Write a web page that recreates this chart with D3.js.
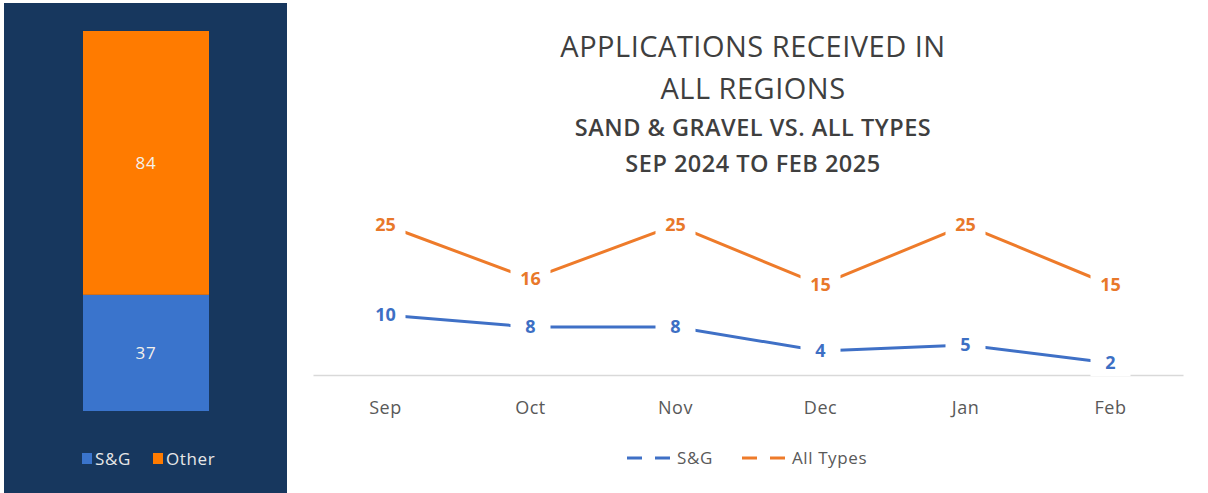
<!DOCTYPE html>
<html>
<head>
<meta charset="utf-8">
<script src="https://cdn.jsdelivr.net/npm/d3@7"></script>
<style>
  body { margin: 0; background: #fff; }
  svg { display: block; font-family: "Open Sans", "Noto Sans", sans-serif; }
</style>
</head>
<body>
<div id="chart"></div>
<script>
// stacked total bar (left panel)
var barKeys = ["S&G", "Other"];
var barValues = [37, 84];

// line chart
var months = ["Sep", "Oct", "Nov", "Dec", "Jan", "Feb"];
var sgValues = [10, 8, 8, 4, 5, 2];
var allValues = [25, 16, 25, 15, 25, 15];

var W = 1208, H = 493;
var orange = "#ff7b00", blue = "#3a74cc";
var lineOrange = "#ee7b2a", lineBlue = "#3f70c6";

var svg = d3.select("#chart").append("svg")
    .attr("width", W)
    .attr("height", H);

svg.append("rect").attr("x", 0).attr("y", 0).attr("width", W).attr("height", H).attr("fill", "#fff");

//Left panel
svg.append("rect")
    .attr("x", 4).attr("y", 3).attr("width", 283).attr("height", H - 3)
    .attr("fill", "#17375e");

var yBar = d3.scaleLinear()
    .domain([0, d3.sum(barValues)])
    .range([411, 31]);

var stackData = [];
var acc = 0;
barValues.forEach(function(v, i) {
    stackData.push({ key: barKeys[i], y0: acc, y1: acc + v, value: v });
    acc += v;
});

var barColor = d3.scaleOrdinal().domain(barKeys).range([blue, orange]);

svg.selectAll(".seg")
    .data(stackData)
    .enter().append("rect")
    .attr("class", "seg")
    .attr("x", 83)
    .attr("width", 126)
    .attr("y", function(d) { return yBar(d.y1); })
    .attr("height", function(d) { return yBar(d.y0) - yBar(d.y1); })
    .attr("fill", function(d) { return barColor(d.key); });

svg.selectAll(".segLabel")
    .data(stackData)
    .enter().append("text")
    .attr("class", "segLabel")
    .attr("x", 146)
    .attr("y", function(d) { return (yBar(d.y0) + yBar(d.y1)) / 2; })
    .attr("dy", "0.35em")
    .attr("text-anchor", "middle")
    .attr("fill", "#f4f0ea")
    .style("font-size", "17px")
    .style("letter-spacing", "0.8px")
    .text(function(d) { return d.value; });

// left legend
var leg1 = svg.append("g").attr("transform", "translate(82,459)");
var legPos = [0, 71];
barKeys.forEach(function(k, i) {
    leg1.append("rect").attr("x", legPos[i]).attr("y", -6).attr("width", 10).attr("height", 11)
        .attr("fill", barColor(k));
    leg1.append("text").attr("x", legPos[i] + 13).attr("y", 0).attr("dy", "0.35em")
        .attr("fill", "#e8e8e8").style("font-size", "17px")
        .style("letter-spacing", "0.6px").text(k);
});

//Right: line chart
var x = d3.scaleBand().domain(months).range([313, 1183]);
var y = d3.scaleLinear().domain([0, 30]).range([375, 195]);
function cx(d, i) { return x(months[i]) + x.bandwidth() / 2; }

// title
var titles = [
    { t: "APPLICATIONS RECEIVED IN", y: 57, s: 29, ls: 0.5, w: 400 },
    { t: "ALL REGIONS", y: 99, s: 29, ls: 0.5, w: 400 },
    { t: "SAND & GRAVEL VS. ALL TYPES", y: 136, s: 23.5, ls: 0.5, w: 600 },
    { t: "SEP 2024 TO FEB 2025", y: 172, s: 23.5, ls: 0.5, w: 600 }
];
svg.selectAll(".title")
    .data(titles)
    .enter().append("text")
    .attr("class", "title")
    .attr("x", 753)
    .attr("y", function(d) { return d.y; })
    .attr("text-anchor", "middle")
    .attr("fill", "#3f3f3f")
    .style("font-size", function(d) { return d.s + "px"; })
    .style("font-weight", function(d) { return d.w; })
    .style("letter-spacing", function(d) { return d.ls + "px"; })
    .text(function(d) { return d.t; });

// x axis
var xAxis = d3.axisBottom(x).tickSize(0).tickPadding(26);
var gx = svg.append("g")
    .attr("transform", "translate(0,375)")
    .call(xAxis);
gx.select(".domain").attr("stroke", "#d9d9d9").attr("stroke-width", 1.5);
gx.selectAll("text")
    .attr("fill", "#595959")
    .style("font-size", "18px")
    .style("letter-spacing", "0.5px")
    .style("font-family", "'Open Sans', sans-serif");

var line = d3.line()
    .x(cx)
    .y(function(d) { return y(d); });

var series = [
    { name: "S&G", values: sgValues, color: lineBlue, text: "#3d6fc4" },
    { name: "All Types", values: allValues, color: lineOrange, text: "#e8782a" }
];

series.forEach(function(s) {
    svg.append("path")
        .datum(s.values)
        .attr("fill", "none")
        .attr("stroke", s.color)
        .attr("stroke-width", 3)
        .attr("d", line);
});

series.forEach(function(s) {
    var g = svg.selectAll(".lbl-" + s.name.replace(/\W/g, ""))
        .data(s.values)
        .enter().append("g")
        .attr("transform", function(d, i) { return "translate(" + cx(d, i) + "," + y(d) + ")"; });
    g.append("rect")
        .attr("x", -20).attr("y", -12).attr("width", 40).attr("height", 25)
        .attr("fill", "#fff");
    g.append("text")
        .attr("text-anchor", "middle")
        .attr("dy", "0.36em")
        .attr("fill", s.text)
        .style("font-size", "18px")
        .style("font-weight", "bold")
        .text(function(d) { return d; });
});

// bottom legend
var leg2 = svg.append("g").attr("transform", "translate(627,458)");
var leg2Pos = [0, 115];
series.forEach(function(s, i) {
    leg2.append("line")
        .attr("x1", leg2Pos[i]).attr("x2", leg2Pos[i] + 46)
        .attr("y1", 0).attr("y2", 0)
        .attr("stroke", s.color).attr("stroke-width", 3)
        .attr("stroke-dasharray", "15,13");
    leg2.append("text")
        .attr("x", leg2Pos[i] + 50).attr("y", 0).attr("dy", "0.35em")
        .attr("fill", "#595959")
        .style("font-size", "17px")
        .style("letter-spacing", "0.6px")
        .text(s.name);
});
</script>
</body>
</html>
